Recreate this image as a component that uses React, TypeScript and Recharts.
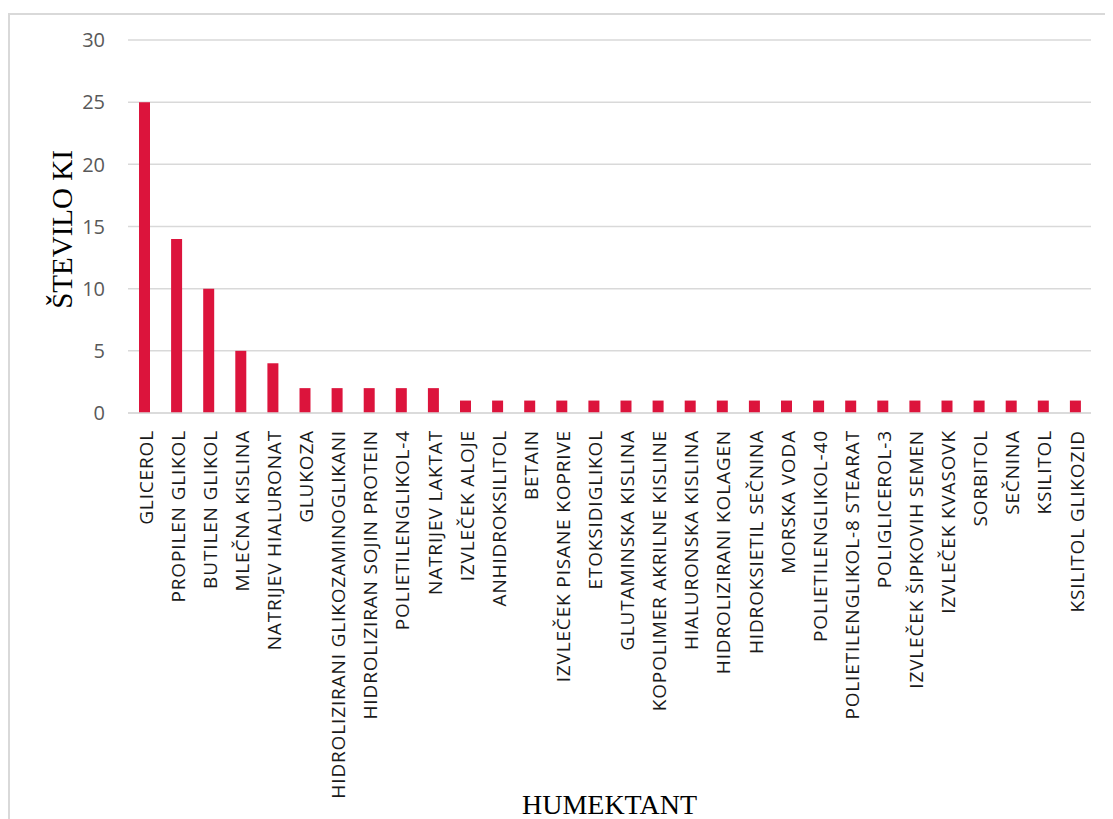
import { Bar, BarChart, CartesianGrid, Label, XAxis, YAxis } from 'recharts'

const humektanti = [
  'GLICEROL',
  'PROPILEN GLIKOL',
  'BUTILEN GLIKOL',
  'MLEČNA KISLINA',
  'NATRIJEV HIALURONAT',
  'GLUKOZA',
  'HIDROLIZIRANI GLIKOZAMINOGLIKANI',
  'HIDROLIZIRAN SOJIN PROTEIN',
  'POLIETILENGLIKOL-4',
  'NATRIJEV LAKTAT',
  'IZVLEČEK ALOJE',
  'ANHIDROKSILITOL',
  'BETAIN',
  'IZVLEČEK PISANE KOPRIVE',
  'ETOKSIDIGLIKOL',
  'GLUTAMINSKA KISLINA',
  'KOPOLIMER AKRILNE KISLINE',
  'HIALURONSKA KISLINA',
  'HIDROLIZIRANI KOLAGEN',
  'HIDROKSIETIL SEČNINA',
  'MORSKA VODA',
  'POLIETILENGLIKOL-40',
  'POLIETILENGLIKOL-8 STEARAT',
  'POLIGLICEROL-3',
  'IZVLEČEK ŠIPKOVIH SEMEN',
  'IZVLEČEK KVASOVK',
  'SORBITOL',
  'SEČNINA',
  'KSILITOL',
  'KSILITOL GLIKOZID',
]

const stevilo = [25, 14, 10, 5, 4, 2, 2, 2, 2, 2, 1, 1, 1, 1, 1, 1, 1, 1, 1, 1, 1, 1, 1, 1, 1, 1, 1, 1, 1, 1]

const yTicks = [0, 5, 10, 15, 20, 25, 30]

const data = humektanti.map((ime, i) => ({ ime, stevilo: stevilo[i] }))

const sans = '"Open Sans", "Noto Sans", sans-serif'
const serif = '"Liberation Serif", "DejaVu Serif", serif'

function CategoryTick({ x, y, payload }: any) {
  return (
    <g transform={`translate(${x},${y + 9}) rotate(-90)`}>
      <text
        textAnchor="end"
        dy="0.45em"
        fontFamily={sans}
        fontSize={19}
        letterSpacing={0.85}
        fill="#1a1a1a"
      >
        {payload.value}
      </text>
    </g>
  )
}

function ValueTick({ x, y, payload }: any) {
  return (
    <text x={x - 15} y={y} textAnchor="end" dy="0.36em" fontFamily={sans} fontSize={20} fill="#595959">
      {payload.value}
    </text>
  )
}

export default function App() {
  return (
    <div
      style={{
        width: 1105,
        height: 806,
        marginTop: 5,
        borderTop: '2px solid #d9d9d9',
        borderLeft: '2px solid #d9d9d9',
        boxSizing: 'border-box',
        overflow: 'hidden',
      }}
    >
      <BarChart
        width={1103}
        height={804}
        data={data}
        margin={{ top: 25, right: 22, bottom: 0, left: 58 }}
        barCategoryGap={0}
      >
        <CartesianGrid vertical={false} stroke="#d9d9d9" strokeWidth={1.5} />
        <XAxis
          dataKey="ime"
          interval={0}
          height={406}
          axisLine={{ stroke: '#d9d9d9', strokeWidth: 1.5 }}
          tickLine={false}
          tick={<CategoryTick />}
        >
          <Label
            value="HUMEKTANT"
            position="insideBottom"
            offset={5}
            style={{ fontFamily: serif, fontSize: 28, fill: '#000' }}
          />
        </XAxis>
        <YAxis
          domain={[0, 30]}
          ticks={yTicks}
          width={60}
          axisLine={false}
          tickLine={false}
          tick={<ValueTick />}
        >
          <Label
            content={({ viewBox }: any) => (
              <text
                transform={`translate(${viewBox.x + 4},${viewBox.y + viewBox.height / 2 + 3}) rotate(-90)`}
                textAnchor="middle"
                fontFamily={serif}
                fontSize={29}
                fill="#000"
              >
                ŠTEVILO KI
              </text>
            )}
          />
        </YAxis>
        <Bar dataKey="stevilo" fill="#dc143c" barSize={11} isAnimationActive={false} />
      </BarChart>
    </div>
  )
}
